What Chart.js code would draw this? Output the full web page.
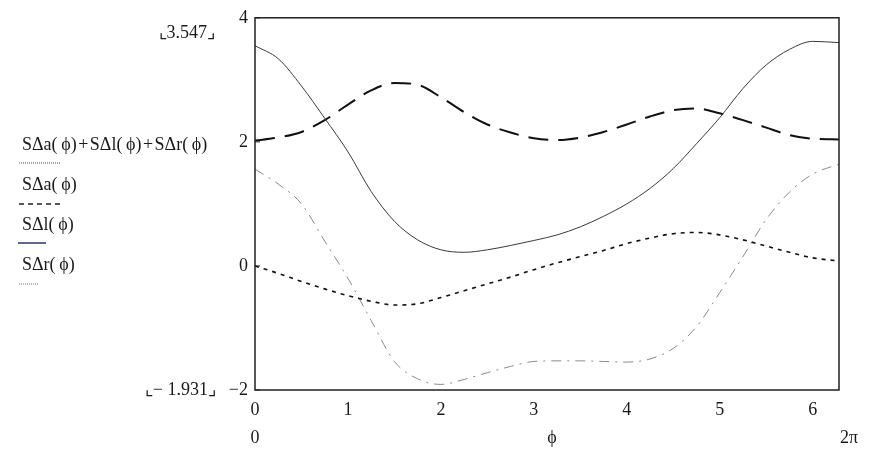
<!DOCTYPE html>
<html>
<head>
<meta charset="utf-8">
<script src="https://cdn.jsdelivr.net/npm/chart.js@4/dist/chart.umd.min.js"></script>
<style>
  html, body { margin: 0; padding: 0; background: #fff; }
  canvas { display: block; }
</style>
</head>
<body>
<canvas id="phi-chart" width="872" height="456"></canvas>
<script>
// values, phi from 0 to 2pi
const phi = [0, 0.25, 0.5, 0.75, 1, 1.25, 1.5, 1.75, 2, 2.25, 2.5, 2.75, 3, 3.25, 3.5, 3.75, 4, 4.25, 4.5, 4.75, 5, 5.25, 5.5, 5.75, 6, 6.283];
const sumValues = [3.55, 3.34, 2.90, 2.38, 1.84, 1.20, 0.72, 0.42, 0.26, 0.22, 0.26, 0.33, 0.41, 0.50, 0.63, 0.80, 1.00, 1.25, 1.57, 1.97, 2.39, 2.86, 3.24, 3.49, 3.62, 3.60];
const aValues = [0, -0.12, -0.25, -0.37, -0.48, -0.57, -0.63, -0.61, -0.51, -0.40, -0.29, -0.18, -0.06, 0.05, 0.15, 0.25, 0.36, 0.45, 0.52, 0.54, 0.50, 0.42, 0.32, 0.22, 0.13, 0.08];
const lValues = [2.02, 2.07, 2.16, 2.35, 2.60, 2.83, 2.95, 2.92, 2.72, 2.48, 2.28, 2.15, 2.06, 2.03, 2.07, 2.16, 2.28, 2.41, 2.51, 2.54, 2.46, 2.35, 2.23, 2.11, 2.05, 2.04];
const rValues = [1.56, 1.32, 1.00, 0.40, -0.20, -0.88, -1.54, -1.82, -1.91, -1.83, -1.72, -1.62, -1.54, -1.53, -1.53, -1.54, -1.55, -1.50, -1.33, -0.98, -0.43, 0.15, 0.75, 1.19, 1.48, 1.64];

const xTicks = [0, 1, 2, 3, 4, 5, 6];
const yTicks = [-2, 0, 2, 4];
const seriesLabels = ['SΔa(\u2009ϕ)\u200a+\u200aSΔl(\u2009ϕ)\u200a+\u200aSΔr(\u2009ϕ)', 'SΔa(\u2009ϕ)', 'SΔl(\u2009ϕ)', 'SΔr(\u2009ϕ)'];
const markerLabels = ['⌞3.547⌟', '⌞− 1.931⌟'];
const rangeLabels = ['0', 'ϕ', '2π'];

const serif = "'Liberation Serif', 'DejaVu Serif', serif";

function points(values) {
    return phi.map((p, i) => ({ x: p, y: values[i] }));
}

// frame, inner ticks and the Mathcad style labels round the plot
const mathcadDecor = {
    id: 'mathcadDecor',
    afterDraw(chart) {
        const ctx = chart.ctx;
        const area = chart.chartArea;
        const xs = chart.scales.x;
        const ys = chart.scales.y;

        ctx.save();
        ctx.strokeStyle = '#1f1f2a';
        ctx.lineWidth = 1.5;
        ctx.strokeRect(area.left, area.top, area.right - area.left, area.bottom - area.top);

        ctx.lineWidth = 1;
        yTicks.forEach(v => {
            const y = ys.getPixelForValue(v);
            ctx.beginPath();
            ctx.moveTo(area.left, y);
            ctx.lineTo(area.left + 5, y);
            ctx.stroke();
        });

        ctx.fillStyle = '#1a1a1a';
        ctx.font = '18px ' + serif;
        ctx.textBaseline = 'middle';

        // markers on the left
        ctx.textAlign = 'right';
        ctx.fillText(markerLabels[0], 215, 33);
        ctx.fillText(markerLabels[1], 216, 390);

        // series labels with their line samples
        ctx.textAlign = 'left';
        const rows = [145, 185, 225, 265];
        seriesLabels.forEach((t, i) => ctx.fillText(t, 22, rows[i]));

        const samples = [
            { y: 163, x1: 19, x2: 60, dash: [1, 1], color: '#3a4a8a', w: 1 },
            { y: 204, x1: 19, x2: 60, dash: [5, 4], color: '#222', w: 1.5 },
            { y: 243, x1: 18, x2: 46, dash: [], color: '#2a3570', w: 1.5 },
            { y: 284, x1: 19, x2: 38, dash: [1, 1], color: '#777', w: 1 }
        ];
        samples.forEach(s => {
            ctx.strokeStyle = s.color;
            ctx.lineWidth = s.w;
            ctx.setLineDash(s.dash);
            ctx.beginPath();
            ctx.moveTo(s.x1, s.y);
            ctx.lineTo(s.x2, s.y);
            ctx.stroke();
        });
        ctx.setLineDash([]);

        // range row under the axis
        const rowY = 438;
        ctx.textAlign = 'center';
        ctx.fillText(rangeLabels[0], xs.getPixelForValue(0), rowY);
        ctx.fillText(rangeLabels[1], 552, rowY);
        ctx.textAlign = 'left';
        ctx.fillText(rangeLabels[2], xs.getPixelForValue(2 * Math.PI) + 1, rowY);
        ctx.restore();
    }
};

new Chart(document.querySelector('#phi-chart'), {
    type: 'line',
    data: {
        datasets: [
            {
                label: seriesLabels[0],
                data: points(sumValues),
                borderColor: '#3a3a3a',
                borderWidth: 1
            },
            {
                label: seriesLabels[1],
                data: points(aValues),
                borderColor: '#111',
                borderWidth: 1.6,
                borderDash: [4, 5]
            },
            {
                label: seriesLabels[2],
                data: points(lValues),
                borderColor: '#111',
                borderWidth: 2,
                borderDash: [20, 10]
            },
            {
                label: seriesLabels[3],
                data: points(rValues),
                borderColor: '#8a8a8a',
                borderWidth: 1,
                borderDash: [10, 6, 2, 6]
            }
        ]
    },
    options: {
        responsive: false,
        animation: false,
        devicePixelRatio: 1,
        elements: {
            point: { radius: 0 },
            line: { cubicInterpolationMode: 'monotone' }
        },
        layout: { padding: { top: 14, right: 33, left: 0, bottom: 0 } },
        plugins: {
            legend: { display: false },
            tooltip: { enabled: false }
        },
        scales: {
            x: {
                type: 'linear',
                min: 0,
                max: 2 * Math.PI,
                afterBuildTicks: scale => { scale.ticks = xTicks.map(v => ({ value: v })); },
                afterFit: scale => { scale.height = 66; },
                grid: { display: false, drawTicks: false },
                border: { display: false },
                ticks: {
                    color: '#1a1a1a',
                    padding: 9,
                    maxRotation: 0,
                    font: { family: serif, size: 18 }
                }
            },
            y: {
                min: -2,
                max: 4,
                afterBuildTicks: scale => { scale.ticks = yTicks.map(v => ({ value: v })); },
                afterFit: scale => { scale.width = 255; },
                grid: { display: false, drawTicks: false },
                border: { display: false },
                ticks: {
                    color: '#1a1a1a',
                    padding: 7,
                    callback: v => (v < 0 ? '\u2212' + Math.abs(v) : String(v)),
                    font: { family: serif, size: 18 }
                }
            }
        }
    },
    plugins: [mathcadDecor]
});
</script>
</body>
</html>
